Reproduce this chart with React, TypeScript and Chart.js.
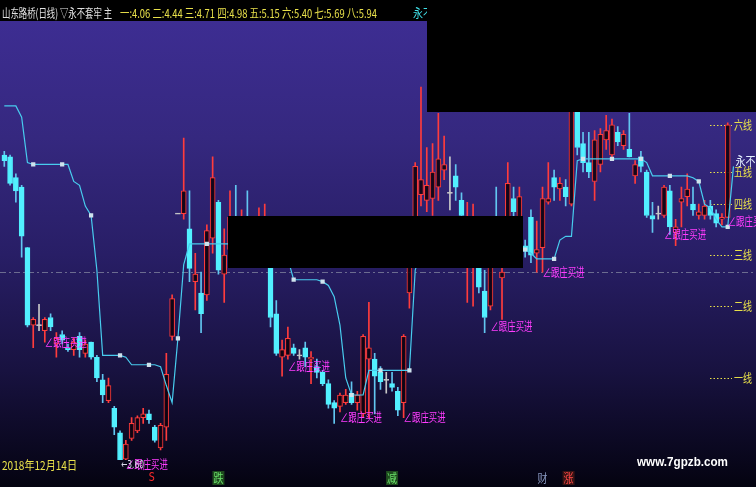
import React, { useEffect, useRef } from 'react';
import { Chart, registerables } from 'chart.js';
Chart.register(...registerables);

// ---- data (prices) ----
const opens = [5.24,5.23,5.12,5.07,4.75,4.34,4.34,4.31,4.38,4.24,4.29,4.22,4.21,4.28,4.19,4.25,4.17,4.05,3.94,3.90,3.77,3.63,3.74,3.78,3.85,3.87,3.80,3.69,3.80,4.28,4.93,4.93,4.85,4.57,4.51,4.50,4.80,4.99,4.61,4.74,4.87,4.74,4.90,4.71,4.74,4.71,4.83,4.40,4.17,4.18,4.22,4.18,4.22,4.16,4.12,4.09,4.03,3.93,3.91,3.93,3.98,3.93,3.87,4.16,4.16,4.09,4.05,4.03,3.99,3.93,4.51,4.80,5.03,5.00,5.01,5.07,5.16,5.04,5.13,5.00,4.67,4.66,4.74,4.52,4.44,4.87,4.59,4.87,5.01,4.87,4.76,4.91,4.72,4.75,4.99,5.12,5.06,5.07,4.98,5.50,5.30,5.20,5.10,5.19,5.32,5.24,5.36,5.29,5.27,5.13,5.23,5.15,4.92,4.93,4.92,5.05,4.83,4.99,5.02,4.98,4.92,4.92,4.97,4.93,4.90,4.91];
const closes = [5.21,5.09,5.05,4.81,4.34,4.37,4.34,4.37,4.33,4.27,4.26,4.21,4.25,4.21,4.24,4.17,4.06,3.97,4.02,3.80,3.61,3.71,3.82,3.85,3.87,3.84,3.73,3.81,4.08,4.48,4.93,5.05,4.64,4.61,4.40,4.84,5.12,4.63,4.71,4.91,4.71,4.87,4.74,4.82,4.85,4.87,4.38,4.19,4.21,4.27,4.19,4.18,4.17,4.17,4.09,4.03,3.92,3.90,3.97,3.97,3.93,3.97,4.28,4.22,4.07,4.04,4.05,4.01,3.89,4.28,4.71,5.18,5.11,5.08,5.15,5.22,5.19,5.04,5.07,4.92,4.84,4.82,4.54,4.38,4.74,4.74,4.62,5.09,4.94,5.02,4.73,4.71,4.74,5.01,5.01,5.07,5.09,5.02,5.52,5.28,5.20,5.15,5.32,5.35,5.37,5.40,5.31,5.35,5.23,5.19,5.18,4.92,4.90,4.93,5.07,4.86,4.86,5.01,5.06,4.95,4.94,4.97,4.92,4.88,4.91,5.40];
const highs = [5.26,5.24,5.14,5.08,4.75,4.38,4.45,4.38,4.40,4.30,4.31,4.24,4.27,4.30,4.26,4.25,4.18,4.08,4.06,3.91,3.78,3.73,3.85,3.86,3.90,3.89,3.81,3.82,4.19,4.50,4.93,5.33,5.05,4.72,4.62,4.87,5.23,5.00,4.85,5.05,5.08,4.95,5.05,4.87,4.96,4.98,4.87,4.47,4.26,4.33,4.24,4.21,4.25,4.20,4.16,4.10,4.05,3.94,3.98,4.00,4.04,3.99,4.29,4.46,4.19,4.12,4.09,4.09,4.01,4.29,4.71,5.20,5.60,5.28,5.30,5.46,5.34,5.23,5.19,5.04,4.99,4.98,4.79,4.63,4.79,5.07,4.66,5.20,5.07,5.07,4.79,4.95,4.89,5.07,5.20,5.16,5.12,5.11,5.56,5.56,5.36,5.36,5.37,5.38,5.45,5.43,5.39,5.37,5.46,5.21,5.26,5.16,4.99,4.97,5.08,5.08,4.90,5.07,5.14,5.07,4.98,5.00,5.00,4.95,4.93,5.41];
const lows = [5.18,5.08,4.99,4.70,4.33,4.22,4.31,4.25,4.31,4.17,4.24,4.20,4.18,4.17,4.17,4.16,4.04,3.93,3.93,3.76,3.60,3.61,3.73,3.77,3.82,3.82,3.72,3.68,3.73,4.26,4.93,4.90,4.57,4.42,4.30,4.47,4.72,4.61,4.46,4.67,4.67,4.68,4.69,4.67,4.68,4.67,4.33,4.18,4.07,4.16,4.18,4.16,4.12,4.03,4.06,4.02,3.90,3.82,3.88,3.92,3.92,3.89,3.85,3.85,3.87,4.00,3.98,3.99,3.86,3.85,4.43,4.77,4.97,4.94,4.92,5.00,5.11,4.95,5.00,4.89,4.46,4.44,4.51,4.30,4.42,4.67,4.37,4.82,4.90,4.82,4.70,4.67,4.62,4.62,4.98,5.00,5.00,4.97,4.97,5.24,5.15,5.12,5.00,5.15,5.27,5.23,5.29,5.27,5.23,5.09,5.15,4.91,4.83,4.90,4.91,4.82,4.76,4.86,4.97,4.92,4.90,4.90,4.90,4.86,4.87,4.91];
// "永不套牢" support line (one more point than candles)
const lineVals = [5.50,5.50,5.50,5.44,5.20,5.19,5.19,5.19,5.19,5.19,5.19,5.19,5.10,5.08,4.97,4.92,4.63,4.18,4.18,4.18,4.18,4.17,4.13,4.13,4.13,4.13,4.13,4.12,4.02,3.93,4.27,4.66,4.77,4.77,4.77,4.77,4.77,4.77,4.77,4.77,4.77,4.77,4.77,4.77,4.77,4.77,4.77,4.77,4.77,4.69,4.58,4.58,4.58,4.58,4.58,4.57,4.55,4.49,4.34,4.06,3.97,3.97,3.97,4.10,4.10,4.10,4.10,4.10,4.10,4.10,4.10,4.63,4.74,4.74,4.74,4.74,4.74,4.74,4.74,4.74,4.74,4.74,4.74,4.74,4.74,4.74,4.74,4.74,4.74,4.74,4.74,4.72,4.69,4.69,4.69,4.69,4.79,4.81,4.81,5.21,5.22,5.22,5.22,5.22,5.22,5.22,5.22,5.22,5.22,5.22,5.22,5.20,5.13,5.13,5.13,5.13,5.13,5.13,5.13,5.12,5.10,4.98,4.96,4.90,4.86,4.86,5.18];
const levelNames = ['一', '二', '三', '四', '五', '六', '七', '八'];
const levelValues = [4.06, 4.44, 4.71, 4.98, 5.15, 5.40, 5.69, 5.94];
const signalIdx = [7, 21, 49, 58, 69, 84, 93, 114, 125];
const signalPrice = [4.25, 3.605, 4.12, 3.85, 3.85, 4.335, 4.62, 4.82, 4.89];
const signalText = '∠跟庄买进';
const lowIdx = 20;
const lowText = '←3.60';
const bottomIdx = [25.5, 37, 67, 93, 97.5];
const bottomText = ['S', '跌', '减', '财', '涨'];
const baseLinePrice = 4.62;
const yMin = 3.626;
const yMax = 5.944;
const stockName = '山东路桥(日线)';
const indicatorName = '▽永不套牢 主';
const dateText = '2018年12月14日';
const siteText = 'www.7gpzb.com';

const RED = '#ff3c3c';
const RED_FILL = 'rgba(14,2,16,0.88)';
const CYAN = '#52f0ff';
const CYAN_WICK = '#62c6f0';
const GRAY = '#c8c8c8';
const YELLOW = '#e8e04a';
const MAGENTA = '#ff3cff';
const CJK = '"Noto Sans CJK SC", "Noto Sans", sans-serif';

function fitText(ctx: CanvasRenderingContext2D, text: string, x: number, y: number, w: number, font: string, color: string, center = false) {
  ctx.save();
  ctx.font = font;
  const m = ctx.measureText(text).width;
  const s = w / m;
  ctx.translate(x, y);
  ctx.scale(s, 1);
  ctx.fillStyle = color;
  ctx.textBaseline = 'middle';
  ctx.textAlign = 'left';
  ctx.fillText(text, center ? -m / 2 : 0, 0);
  ctx.restore();
}

export default function App() {
  const ref = useRef<HTMLCanvasElement>(null);
  useEffect(() => {
    const canvas = ref.current!;
    const labels = lineVals.map((_, i) => String(i));
    const kind = (i: number) => (i >= closes.length ? 'none' : closes[i] > opens[i] ? 'up' : closes[i] < opens[i] ? 'down' : 'doji');
    const body = labels.map((_, i) => {
      if (i >= closes.length) return null;
      if (closes[i] === opens[i]) return [opens[i] - 0.0027, opens[i] + 0.0027];
      return [opens[i], closes[i]];
    });
    const upperWick = labels.map((_, i) => (i >= closes.length ? null : [Math.max(opens[i], closes[i]), highs[i]]));
    const lowerWick = labels.map((_, i) => (i >= closes.length ? null : [lows[i], Math.min(opens[i], closes[i])]));
    const wickColor = labels.map((_, i) => {
      const k = kind(i);
      return k === 'up' ? RED : k === 'down' ? CYAN_WICK : GRAY;
    });
    const bodyFill = labels.map((_, i) => {
      const k = kind(i);
      return k === 'up' ? RED_FILL : k === 'down' ? CYAN : GRAY;
    });
    const bodyBorder = labels.map((_, i) => {
      const k = kind(i);
      return k === 'up' ? RED : k === 'down' ? CYAN : GRAY;
    });

    const decor = {
      id: 'decor',
      beforeDraw(chart: any) {
        const ctx: CanvasRenderingContext2D = chart.ctx;
        const W = chart.width, H = chart.height;
        ctx.save();
        const g = ctx.createLinearGradient(0, 21, 0, H);
        g.addColorStop(0, '#3d2d92');
        g.addColorStop(0.25, '#35287f');
        g.addColorStop(0.5, '#281e66');
        g.addColorStop(0.75, '#181240');
        g.addColorStop(0.95, '#08061a');
        g.addColorStop(1, '#040310');
        ctx.fillStyle = g;
        ctx.fillRect(0, 0, W, H);
        ctx.fillStyle = '#000';
        ctx.fillRect(0, 0, W, 21);
        const ys = chart.scales.y;
        const by = Math.round(ys.getPixelForValue(baseLinePrice)) + 0.5;
        ctx.strokeStyle = '#6c6c90';
        ctx.lineWidth = 1;
        ctx.setLineDash([6, 3, 2, 3]);
        ctx.beginPath();
        ctx.moveTo(0, by);
        ctx.lineTo(W, by);
        ctx.stroke();
        ctx.restore();
      },
      beforeDatasetsDraw(chart: any) {
        const ctx: CanvasRenderingContext2D = chart.ctx;
        const ys = chart.scales.y;
        ctx.save();
        levelValues.forEach((v, k) => {
          const y = Math.round(ys.getPixelForValue(v)) + 0.5;
          ctx.strokeStyle = YELLOW;
          ctx.lineWidth = 1;
          ctx.setLineDash([1.5, 2]);
          ctx.beginPath();
          ctx.moveTo(710, y);
          ctx.lineTo(732, y);
          ctx.stroke();
          ctx.setLineDash([]);
          fitText(ctx, levelNames[k] + '线', 734, y, 18, '12px ' + CJK, YELLOW);
        });
        ctx.restore();
      },
      afterDatasetsDraw(chart: any) {
        const ctx: CanvasRenderingContext2D = chart.ctx;
        const xs = chart.scales.x;
        const ys = chart.scales.y;
        ctx.save();
        signalIdx.forEach((idx, k) => {
          const x = xs.getPixelForValue(idx);
          const y = ys.getPixelForValue(signalPrice[k]);
          fitText(ctx, signalText, x, y, 42, '12px ' + CJK, MAGENTA);
        });
        fitText(ctx, lowText, xs.getPixelForValue(lowIdx) + 1, ys.getPixelForValue(lows[lowIdx]), 23, '11px "DejaVu Sans", sans-serif', '#d8d8e8');
        const li = lineVals.length - 1;
        fitText(ctx, '永不套牢', xs.getPixelForValue(li) + 2, ys.getPixelForValue(lineVals[li]) - 5, 40, '12px ' + CJK, '#e4f0ff');
        fitText(ctx, stockName, 2, 13, 56, '12px ' + CJK, '#e0e0e0');
        fitText(ctx, indicatorName, 60, 13, 52, '12px ' + CJK, '#e0e0e0');
        const hdr = levelNames.map((nm, k) => nm + ':' + levelValues[k].toFixed(2)).join(' ');
        fitText(ctx, hdr, 120, 13, 257, '12px ' + CJK, YELLOW);
        fitText(ctx, '永不套牢:' + lineVals[li].toFixed(2), 413, 13, 62, '12px ' + CJK, '#40e0e8');
        ctx.fillStyle = '#000';
        ctx.fillRect(427, 0, 329, 112);
        ctx.fillRect(228, 216, 295, 52);
        const step = xs.getPixelForValue(1) - xs.getPixelForValue(0);
        bottomIdx.forEach((idx, k) => {
          const x = xs.getPixelForValue(Math.floor(idx)) + (idx % 1) * step;
          const t = bottomText[k];
          const y = 478;
          if (t === '跌' || t === '减') {
            ctx.fillStyle = '#1e4a1e';
            ctx.fillRect(x - 6, y - 7, 12, 14);
            fitText(ctx, t, x, y, 10, '12px ' + CJK, '#6ae06a', true);
          } else if (t === '涨') {
            ctx.fillStyle = '#3a1414';
            ctx.fillRect(x - 6, y - 7, 12, 14);
            fitText(ctx, t, x, y, 10, '12px ' + CJK, '#ff4848', true);
          } else if (t === '财') {
            fitText(ctx, t, x, y, 10, '12px ' + CJK, '#8898c0', true);
          } else {
            fitText(ctx, t, x, y, 6, '12px "DejaVu Sans", sans-serif', '#ff2a2a', true);
          }
        });
        fitText(ctx, dateText, 2, 465, 75, '12px ' + CJK, YELLOW);
        fitText(ctx, siteText, 637, 462, 91, 'bold 13px "Liberation Sans", Arial, sans-serif', '#ffffff');
        ctx.restore();
      },
    };

    const chart = new Chart(canvas, {
      type: 'bar',
      data: {
        labels,
        datasets: [
          {
            type: 'line',
            data: lineVals,
            borderColor: '#48ccee',
            borderWidth: 1.2,
            tension: 0,
            pointStyle: 'rect',
            pointRadius: (c: any) => (c.dataIndex > 0 && c.dataIndex % 5 === 0 ? 3 : 0),
            pointBackgroundColor: '#cfe2ec',
            pointBorderColor: '#cfe2ec',
            pointBorderWidth: 0,
            order: 0,
          } as any,
          {
            data: body as any,
            backgroundColor: bodyFill,
            borderColor: bodyBorder,
            borderWidth: 1,
            borderSkipped: false,
            barThickness: 5,
            grouped: false,
            order: 1,
          } as any,
          {
            data: upperWick as any,
            backgroundColor: wickColor,
            borderWidth: 0,
            barThickness: 1,
            grouped: false,
            order: 2,
          } as any,
          {
            data: lowerWick as any,
            backgroundColor: wickColor,
            borderWidth: 0,
            barThickness: 1,
            grouped: false,
            order: 2,
          } as any,
        ],
      },
      options: {
        responsive: false,
        animation: false,
        devicePixelRatio: 1,
        layout: { padding: { left: 1.4, right: 19.6, top: 22, bottom: 27 } },
        plugins: { legend: { display: false }, tooltip: { enabled: false } },
        scales: {
          x: { type: 'category', display: false, offset: true, grid: { display: false } },
          y: { type: 'linear', display: false, min: yMin, max: yMax, grid: { display: false } },
        },
      },
      plugins: [decor],
    } as any);
    return () => chart.destroy();
  }, []);
  return (
    <div style={{ position: 'absolute', left: 0, top: 0, width: 756, height: 487, background: '#000' }}>
      <canvas ref={ref} width={756} height={487} style={{ display: 'block', width: 756, height: 487 }} />
    </div>
  );
}
